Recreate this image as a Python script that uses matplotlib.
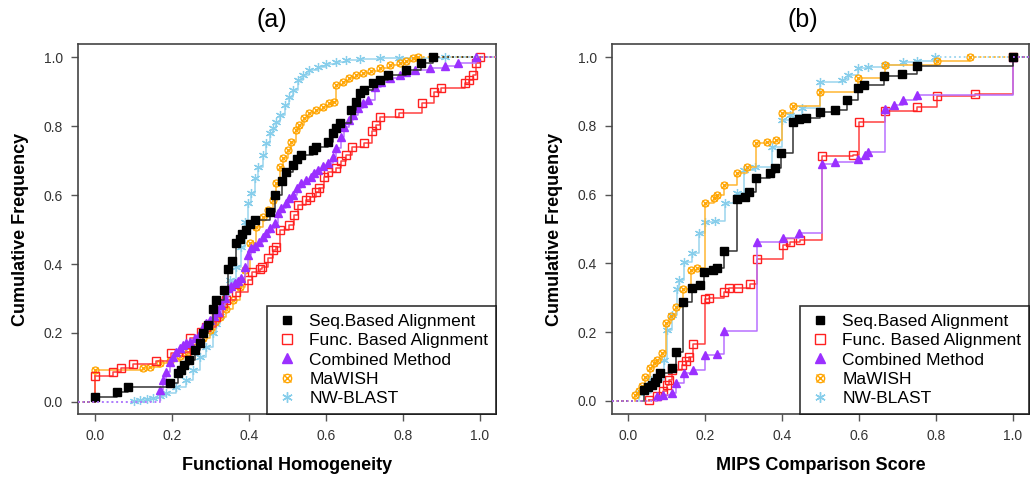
import matplotlib
matplotlib.use("Agg")
import matplotlib.pyplot as plt
from matplotlib.lines import Line2D

plt.rcParams['font.family'] = ['Liberation Sans', 'DejaVu Sans']

# ---- panel (a): Functional Homogeneity ----
seq_a_x = [0.0, 0.056, 0.086, 0.195, 0.214, 0.223, 0.231, 0.244, 0.258, 0.271, 0.28, 0.293, 0.305, 0.314,
           0.334, 0.346, 0.356, 0.366, 0.375, 0.382, 0.392, 0.401, 0.414, 0.455, 0.466, 0.486, 0.497, 0.514,
           0.524, 0.536, 0.566, 0.575, 0.605, 0.618, 0.627, 0.637, 0.666, 0.677, 0.688, 0.698, 0.722, 0.74,
           0.761, 0.809, 0.848, 0.878]
seq_a_y = [0.015, 0.03, 0.042, 0.054, 0.083, 0.093, 0.107, 0.122, 0.15, 0.17, 0.2, 0.223, 0.27, 0.296,
           0.325, 0.385, 0.41, 0.46, 0.473, 0.487, 0.5, 0.515, 0.527, 0.55, 0.60, 0.64, 0.666, 0.687,
           0.704, 0.716, 0.73, 0.74, 0.755, 0.78, 0.793, 0.808, 0.846, 0.87, 0.895, 0.906, 0.926, 0.935,
           0.949, 0.962, 0.984, 1.0]

func_a_x = [0.0, 0.045, 0.067, 0.097, 0.158, 0.197, 0.236, 0.246, 0.275, 0.288, 0.314, 0.332, 0.34, 0.366,
            0.398, 0.408, 0.427, 0.434, 0.449, 0.462, 0.47, 0.479, 0.505, 0.516, 0.527, 0.549, 0.559, 0.575,
            0.582, 0.596, 0.605, 0.627, 0.64, 0.653, 0.668, 0.70, 0.72, 0.729, 0.74, 0.79, 0.85, 0.88, 0.90,
            0.961, 0.972, 0.983, 0.991, 1.0]
func_a_y = [0.075, 0.088, 0.098, 0.11, 0.119, 0.141, 0.146, 0.185, 0.204, 0.216, 0.247, 0.286, 0.296, 0.32,
            0.354, 0.378, 0.385, 0.392, 0.416, 0.44, 0.45, 0.5, 0.513, 0.542, 0.571, 0.586, 0.595, 0.61,
            0.621, 0.653, 0.668, 0.677, 0.7, 0.716, 0.74, 0.752, 0.786, 0.803, 0.825, 0.837, 0.868, 0.90, 0.909,
            0.924, 0.935, 0.948, 0.984, 1.0]

comb_a_x = [0.167, 0.175, 0.184, 0.193, 0.201, 0.21, 0.219, 0.227, 0.236, 0.245, 0.258, 0.271, 0.28, 0.288,
            0.297, 0.308, 0.319, 0.327, 0.336, 0.345, 0.353, 0.362, 0.371, 0.379, 0.388, 0.397, 0.405, 0.414,
            0.425, 0.436, 0.444, 0.455, 0.466, 0.475, 0.484, 0.495, 0.505, 0.514, 0.524, 0.536, 0.549, 0.562,
            0.57, 0.579, 0.592, 0.605, 0.618, 0.627, 0.64, 0.648, 0.661, 0.67, 0.683, 0.696, 0.709, 0.727,
            0.744, 0.766, 0.792, 0.809, 0.831, 0.87, 0.909, 0.943, 0.991]
comb_a_y = [0.035, 0.064, 0.088, 0.117, 0.131, 0.146, 0.155, 0.165, 0.17, 0.175, 0.185, 0.2, 0.218, 0.228,
            0.238, 0.25, 0.262, 0.281, 0.3, 0.33, 0.337, 0.345, 0.35, 0.358, 0.392, 0.426, 0.445, 0.453,
            0.465, 0.479, 0.489, 0.503, 0.52, 0.547, 0.561, 0.576, 0.59, 0.6, 0.619, 0.634, 0.643, 0.653,
            0.663, 0.672, 0.684, 0.692, 0.711, 0.735, 0.769, 0.796, 0.817, 0.832, 0.851, 0.866, 0.877, 0.914,
            0.928, 0.938, 0.948, 0.957, 0.964, 0.968, 0.974, 0.983, 1.0]

mawish_a_x = [0.0, 0.123, 0.141, 0.167, 0.193, 0.219, 0.24, 0.262, 0.28, 0.297, 0.31, 0.323, 0.34, 0.358,
              0.375, 0.388, 0.401, 0.418, 0.436, 0.449, 0.462, 0.47, 0.479, 0.488, 0.501, 0.51, 0.523, 0.531,
              0.544, 0.557, 0.575, 0.592, 0.609, 0.622, 0.627, 0.644, 0.661, 0.679, 0.696, 0.718, 0.74, 0.766,
              0.792, 0.809, 0.826, 0.839]
mawish_a_y = [0.093, 0.098, 0.102, 0.112, 0.12, 0.133, 0.146, 0.16, 0.185, 0.209, 0.233, 0.247, 0.27, 0.296,
              0.334, 0.383, 0.46, 0.508, 0.537, 0.557, 0.586, 0.634, 0.682, 0.706, 0.73, 0.755, 0.788, 0.803,
              0.822, 0.837, 0.846, 0.856, 0.866, 0.871, 0.919, 0.929, 0.938, 0.948, 0.955, 0.96, 0.967, 0.977,
              0.984, 0.989, 0.996, 1.0]

nw_a_x = [0.10, 0.115, 0.135, 0.15, 0.167, 0.184, 0.21, 0.236, 0.253, 0.271, 0.288, 0.305, 0.314, 0.323,
          0.332, 0.34, 0.349, 0.366, 0.379, 0.388, 0.398, 0.405, 0.414, 0.424, 0.436, 0.444, 0.455, 0.462,
          0.47, 0.479, 0.492, 0.505, 0.514, 0.527, 0.54, 0.557, 0.579, 0.601, 0.627, 0.653, 0.688, 0.74,
          0.79, 0.91]
nw_a_y = [0.003, 0.006, 0.009, 0.012, 0.016, 0.026, 0.044, 0.064, 0.093, 0.131, 0.16, 0.199, 0.225, 0.25,
          0.28, 0.315, 0.354, 0.392, 0.45, 0.523, 0.576, 0.605, 0.648, 0.682, 0.716, 0.75, 0.779, 0.793,
          0.813, 0.832, 0.861, 0.885, 0.904, 0.933, 0.948, 0.962, 0.972, 0.98, 0.986, 0.991, 0.994, 0.996,
          0.998, 1.0]

# ---- panel (b): MIPS Comparison Score ----
seq_b_x = [0.042, 0.052, 0.061, 0.07, 0.076, 0.083, 0.113, 0.125, 0.142, 0.165, 0.187, 0.197, 0.22, 0.23,
           0.248, 0.284, 0.304, 0.313, 0.332, 0.369, 0.382, 0.397, 0.428, 0.445, 0.462, 0.499, 0.538, 0.57,
           0.598, 0.613, 0.665, 0.713, 0.75, 1.0]
seq_b_y = [0.032, 0.04, 0.047, 0.056, 0.066, 0.08, 0.095, 0.143, 0.289, 0.328, 0.337, 0.376, 0.381, 0.386,
           0.437, 0.587, 0.594, 0.609, 0.649, 0.662, 0.676, 0.722, 0.812, 0.819, 0.822, 0.841, 0.846, 0.875,
           0.909, 0.919, 0.945, 0.951, 0.974, 1.0]

func_b_x = [0.053, 0.076, 0.09, 0.1, 0.105, 0.113, 0.139, 0.15, 0.157, 0.168, 0.2, 0.211, 0.249, 0.263,
            0.285, 0.317, 0.336, 0.402, 0.421, 0.447, 0.503, 0.584, 0.601, 0.668, 0.75, 0.802, 0.901, 1.0]
func_b_y = [0.003, 0.013, 0.03, 0.047, 0.061, 0.09, 0.105, 0.115, 0.129, 0.166, 0.296, 0.3, 0.318, 0.328,
            0.329, 0.339, 0.412, 0.453, 0.463, 0.468, 0.713, 0.715, 0.812, 0.844, 0.856, 0.888, 0.892, 1.0]

comb_b_x = [0.076, 0.09, 0.113, 0.125, 0.144, 0.168, 0.2, 0.23, 0.249, 0.334, 0.402, 0.445, 0.503, 0.538,
            0.598, 0.616, 0.624, 0.668, 0.692, 0.714, 0.75, 1.0]
comb_b_y = [0.013, 0.017, 0.022, 0.051, 0.08, 0.09, 0.134, 0.137, 0.202, 0.461, 0.475, 0.487, 0.69, 0.695,
            0.705, 0.715, 0.725, 0.85, 0.86, 0.874, 0.889, 1.0]

mawish_b_x = [0.018, 0.027, 0.035, 0.044, 0.057, 0.068, 0.076, 0.087, 0.099, 0.111, 0.125, 0.142, 0.163,
              0.178, 0.2, 0.222, 0.23, 0.249, 0.284, 0.308, 0.332, 0.362, 0.384, 0.4, 0.429, 0.499, 0.598,
              0.668, 0.802, 0.888]
mawish_b_y = [0.017, 0.03, 0.042, 0.071, 0.095, 0.109, 0.119, 0.139, 0.228, 0.247, 0.274, 0.325, 0.381,
              0.386, 0.577, 0.589, 0.599, 0.628, 0.662, 0.679, 0.749, 0.754, 0.76, 0.838, 0.857, 0.898, 0.938,
              0.976, 0.99, 1.0]

nw_b_x = [0.027, 0.06, 0.092, 0.1, 0.113, 0.126, 0.133, 0.144, 0.165, 0.183, 0.2, 0.226, 0.252, 0.282, 0.3,
          0.33, 0.373, 0.399, 0.421, 0.451, 0.499, 0.555, 0.572, 0.598, 0.624, 0.668, 0.715, 0.75, 0.797]
nw_b_y = [0.022, 0.06, 0.119, 0.206, 0.25, 0.325, 0.352, 0.405, 0.43, 0.487, 0.521, 0.524, 0.575, 0.606,
          0.672, 0.681, 0.739, 0.817, 0.831, 0.851, 0.928, 0.933, 0.948, 0.967, 0.972, 0.977, 0.986, 0.99, 1.0]

labels = ['Seq.Based Alignment', 'Func. Based Alignment', 'Combined Method', 'MaWISH', 'NW-BLAST']
mcol = ['black', '#FF2020', '#9B30FF', '#FFA500', '#87CEEB']
lcol = ['#333333', '#FF4040', '#B870FF', '#FFB733', '#9AD4EE']
zord = [6, 4, 5, 3, 2]


def draw_series(ax, k, xs, ys, xlim):
    ax.step(xs, ys, where='post', color=lcol[k], lw=1.1, zorder=zord[k])
    ext_z = zord[k] + (10 if k == 2 else 0)
    ax.plot([xlim[0], xs[0]], [0, 0], ls=':', color=lcol[k], lw=1.3, zorder=ext_z)
    ax.plot([xs[-1], xlim[1]], [1, 1], ls=':', color=lcol[k], lw=1.3, zorder=ext_z)
    ax.plot([xs[0], xs[0]], [0, ys[0]], color=lcol[k], lw=1.1, zorder=zord[k])
    if k == 0:
        ax.plot(xs, ys, 's', color=mcol[k], ms=5.3, zorder=zord[k])
    elif k == 1:
        ax.plot(xs, ys, 's', mfc='none', mec=mcol[k], mew=1.0, ms=5.8, zorder=zord[k])
    elif k == 2:
        ax.plot(xs, ys, '^', color=mcol[k], ms=5.8, zorder=zord[k])
    elif k == 3:
        ax.plot(xs, ys, 'o', mfc='none', mec=mcol[k], mew=0.9, ms=5, zorder=zord[k])
        ax.plot(xs, ys, 'x', color=mcol[k], mew=0.9, ms=5, zorder=zord[k])
    else:
        ax.plot(xs, ys, marker=(6, 2, 0), ls='none', color=mcol[k], mew=0.9, ms=6.5, zorder=zord[k])


def legend_handles():
    h = [Line2D([], [], ls='none', marker='s', color=mcol[0], ms=6),
         Line2D([], [], ls='none', marker='s', mfc='none', mec=mcol[1], mew=1.0, ms=6.5),
         Line2D([], [], ls='none', marker='^', color=mcol[2], ms=6.5),
         (Line2D([], [], ls='none', marker='o', mfc='none', mec=mcol[3], ms=6),
          Line2D([], [], ls='none', marker='x', color=mcol[3], ms=6)),
         Line2D([], [], ls='none', marker=(6, 2, 0), color=mcol[4], ms=7.5)]
    return h


fig = plt.figure(figsize=(10.30, 4.78), dpi=100)
ax1 = fig.add_axes([78 / 1030, 64 / 478, 418 / 1030, 370 / 478])
ax2 = fig.add_axes([612 / 1030, 64 / 478, 417 / 1030, 370 / 478])

panels = [
    (ax1, (-0.045, 1.042), (-0.035, 1.038), 'Functional Homogeneity', '(a)', 272,
     [(seq_a_x, seq_a_y), (func_a_x, func_a_y), (comb_a_x, comb_a_y), (mawish_a_x, mawish_a_y), (nw_a_x, nw_a_y)]),
    (ax2, (-0.042, 1.042), (-0.038, 1.038), 'MIPS Comparison Score', '(b)', 803,
     [(seq_b_x, seq_b_y), (func_b_x, func_b_y), (comb_b_x, comb_b_y), (mawish_b_x, mawish_b_y), (nw_b_x, nw_b_y)]),
]

for ax, xl, yl, xlab, title, tx, series in panels:
    for k in [4, 3, 1, 2, 0]:
        draw_series(ax, k, series[k][0], series[k][1], xl)
    ax.set_xlim(*xl)
    ax.set_ylim(*yl)
    ticks = [0.0, 0.2, 0.4, 0.6, 0.8, 1.0]
    ax.set_xticks(ticks)
    ax.set_yticks(ticks)
    ax.set_xticklabels(['%.1f' % t for t in ticks])
    ax.set_yticklabels(['%.1f' % t for t in ticks])
    ax.tick_params(direction='out', length=5, width=1, color='#555555', labelcolor='#333333',
                   labelsize=10, pad=6)
    for s in ax.spines.values():
        s.set_color('#444444')
        s.set_linewidth(1.2)
    ax.set_xlabel(xlab, fontsize=13, fontweight='bold', labelpad=10)
    ax.set_ylabel('Cumulative Frequency', fontsize=13, fontweight='bold', labelpad=10)
    fig.text(tx / 1030, 1 - 20 / 478, title, fontsize=18, ha='center', va='center')
    leg = ax.legend(legend_handles(), labels, loc='lower right', bbox_to_anchor=(1, 0),
                    borderaxespad=0, fontsize=12.5, frameon=True, fancybox=False,
                    labelspacing=0.24, handletextpad=0.6, handlelength=1.4, borderpad=0.45)
    leg.get_frame().set_edgecolor('black')
    leg.get_frame().set_linewidth(1.2)
    leg.set_zorder(30)

fig.savefig('out.png', dpi=100)
